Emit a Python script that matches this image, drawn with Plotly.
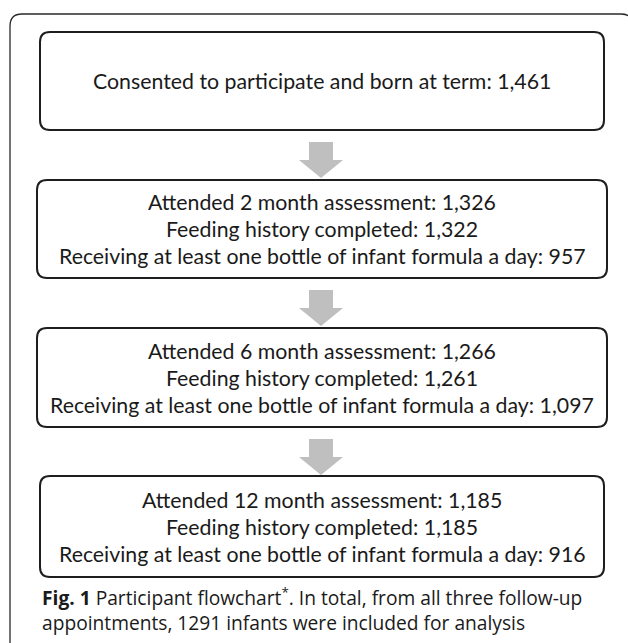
import plotly.graph_objects as go

# ---- data (text content) ----
box_lines = [
    ["Consented to participate and born at term: 1,461"],
    ["Attended 2 month assessment: 1,326",
     "Feeding history completed: 1,322",
     "Receiving at least one bottle of infant formula a day: 957"],
    ["Attended 6 month assessment: 1,266",
     "Feeding history completed: 1,261",
     "Receiving at least one bottle of infant formula a day: 1,097"],
    ["Attended 12 month assessment: 1,185",
     "Feeding history completed: 1,185",
     "Receiving at least one bottle of infant formula a day: 916"],
]
caption_lines = [
    "<b>Fig. 1</b> Participant flowchart<sup>*</sup>. In total, from all three follow-up",
    "appointments, 1291 infants were included for analysis",
]

# ---- layout geometry ----
W, H = 628, 643
box_x0 = [40, 37, 37, 40]
box_x1 = [604, 607, 607, 604]
box_y0 = [32, 180, 328, 476]
box_y1 = [130, 278, 427, 577]
line_gap = 27
cx = 322

BORDER = "#1e1e1e"
ARROW = "#bfbfbf"
TEXT = "#1a1a1a"
BOX_FONT = "Lato"


def rrect(x0, y0, x1, y1, r):
    return (f"M {x0+r},{y0} L {x1-r},{y0} Q {x1},{y0} {x1},{y0+r} "
            f"L {x1},{y1-r} Q {x1},{y1} {x1-r},{y1} L {x0+r},{y1} "
            f"Q {x0},{y1} {x0},{y1-r} L {x0},{y0+r} Q {x0},{y0} {x0+r},{y0} Z")


shapes = []
annotations = []

# outer frame (open at right/bottom, clipped by page)
shapes.append(dict(type="path", path=rrect(10, 14, 633, 700, 12),
                   line=dict(color="#2a2a2a", width=1.3), layer="below"))

for i, lines in enumerate(box_lines):
    shapes.append(dict(type="path",
                       path=rrect(box_x0[i], box_y0[i], box_x1[i], box_y1[i], 10),
                       line=dict(color=BORDER, width=2), fillcolor="white"))
    yc = (box_y0[i] + box_y1[i]) / 2
    n = len(lines)
    for j, t in enumerate(lines):
        y = yc + (j - (n - 1) / 2) * line_gap
        annotations.append(dict(x=cx, y=y, xref="x", yref="y", text=t,
                                showarrow=False, xanchor="center", yanchor="middle",
                                font=dict(family=BOX_FONT, size=21.3, color=TEXT)))

# arrows between boxes
for i in range(len(box_lines) - 1):
    top = box_y1[i] + 12
    mid = top + 18
    tip = top + 36
    p = (f"M 309,{top} L 333,{top} L 333,{mid} L 343,{mid} L 321,{tip} "
         f"L 299,{mid} L 309,{mid} Z")
    shapes.append(dict(type="path", path=p, fillcolor=ARROW, line=dict(width=0)))

# caption
cap_y = [597, 622]
for t, y in zip(caption_lines, cap_y):
    annotations.append(dict(x=40, y=y, xref="x", yref="y", text=t, showarrow=False,
                            xanchor="left", yanchor="middle",
                            font=dict(family="Open Sans", size=19.2, color=TEXT)))

fig = go.Figure()
fig.update_layout(
    width=W, height=H, margin=dict(l=0, r=0, t=0, b=0),
    paper_bgcolor="white", plot_bgcolor="white",
    xaxis=dict(range=[0, W], visible=False, fixedrange=True),
    yaxis=dict(range=[H, 0], visible=False, fixedrange=True),
    shapes=shapes, annotations=annotations, showlegend=False,
)
fig.write_html("out.html", config={"displayModeBar": False},
               post_script="document.body.style.margin='0';document.body.style.overflow='hidden';")
